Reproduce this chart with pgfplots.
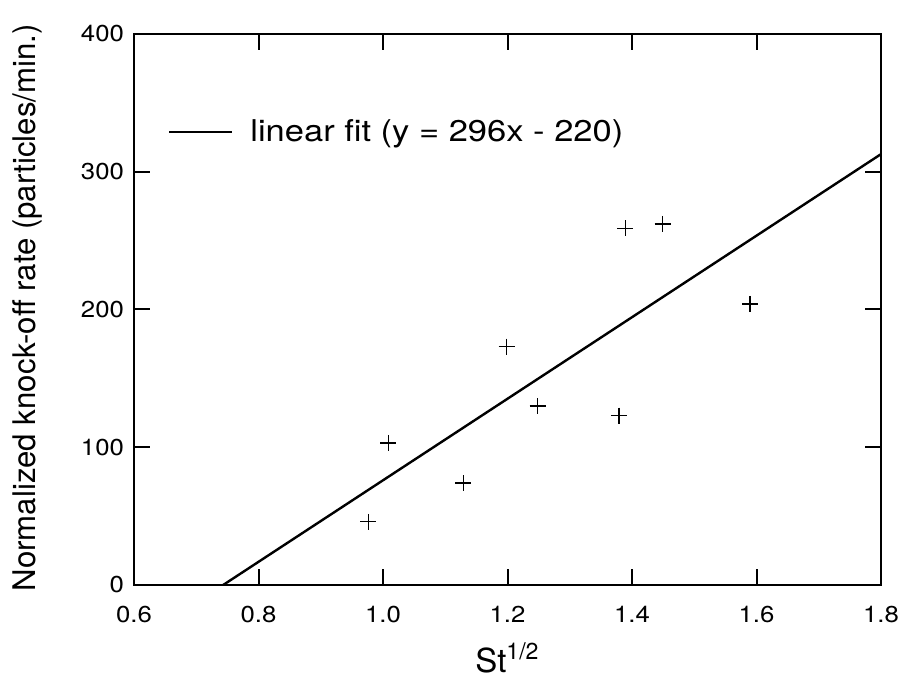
\documentclass[border=0pt]{standalone}
\usepackage{pgfplots}
\pgfplotsset{compat=1.18}
\usepackage{fontspec}
\setmainfont{TeX Gyre Heros}
\newcommand\wide[2][1.12]{\scalebox{#1}[1]{#2}}
\begin{document}
\begin{tikzpicture}
\begin{axis}[
  scale only axis,
  width=373.5pt, height=275.5pt,
  xmin=0.6, xmax=1.8, ymin=0, ymax=400,
  xtick={0.6,0.8,1.0,1.2,1.4,1.6,1.8},
  xticklabels={\wide{0.6},\wide{0.8},\wide{1.0},\wide{1.2},\wide{1.4},\wide{1.6},\wide{1.8}},
  ytick={0,100,200,300,400},
  yticklabels={\wide{0},\wide{100},\wide{200},\wide{300},\wide{400}},
  tick align=inside,
  xtick pos=both, ytick pos=both,
  xticklabel pos=lower, yticklabel pos=left,
  major tick length=8pt,
  minor tick num=0,
  tick style={line width=1pt, black},
  axis line style={line width=1pt},
  tick label style={font=\fontsize{11.5}{13}\selectfont},
  xticklabel style={yshift=-7pt},
  yticklabel style={xshift=-1.5pt},
  xlabel={St\textsuperscript{1/2}},
  ylabel={Normalized knock-off rate (particles/min.)},
  every axis x label/.style={at={(axis description cs:0.5,-0.158)}, anchor=base, font=\fontsize{16.5}{19}\selectfont},
  every axis y label/.style={at={(axis description cs:-0.1312,0.503)}, anchor=base, rotate=90, font=\fontsize{15.6}{18}\selectfont},
  legend style={at={(axis cs:0.6546,328.9)}, anchor=west, draw=none, fill=none,
    inner sep=0pt, outer sep=0pt, font=\fontsize{15}{18}\selectfont,
    nodes={inner sep=0pt, anchor=west},
    /tikz/every even column/.append style={column sep=0pt}},
  legend image code/.code={\draw[line width=1.2pt, black] (0pt,0pt) -- (31.5pt,0pt);},
]
\addplot[only marks, mark=+, mark size=4pt, mark options={line width=0.6pt, black}, forget plot]
  coordinates {
  (0.9764,45.9) (1.0085,103.1) (1.129,74.0) (1.1987,173.0) (1.2485,129.9)
  (1.3791,122.9) (1.3892,258.9) (1.4493,262.1) (1.5896,204.0)
  };
\addplot[line width=1.2pt, black] coordinates {(0.7432,0) (1.8,312.8)};
\addlegendentry{\hspace*{8.5pt}\wide[1.15]{linear fit (y = 296x - 220)}}
\coordinate (SW) at (rel axis cs:0,0);
\coordinate (NE) at (rel axis cs:1,1);
\end{axis}
\pgfresetboundingbox
\path ([shift={(-67pt,-46.5pt)}]SW) rectangle ([shift={(10.5pt,17pt)}]NE);
\end{tikzpicture}
\end{document}
